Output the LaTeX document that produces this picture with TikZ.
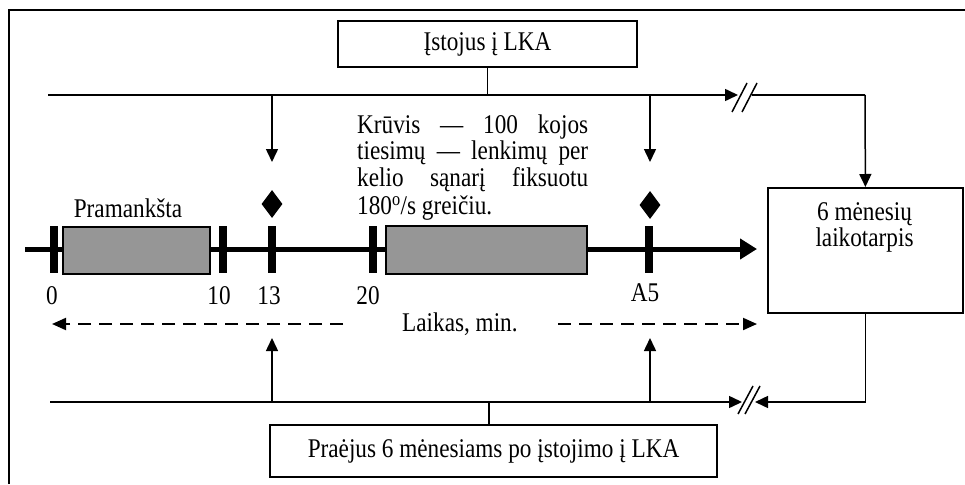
\documentclass[tikz,border=0pt]{standalone}
\usepackage{fontspec}
\setmainfont{Liberation Serif}[FakeStretch=0.86]
\usepackage{tikz}
\usetikzlibrary{arrows.meta}
\usetikzlibrary{shapes.geometric}
\definecolor{boxgray}{RGB}{150,150,150}

\begin{document}
\begin{tikzpicture}[x=1pt,y=-1pt,
        thinline/.style={line width=1.5pt},
        arr/.style={thinline,-{Triangle[length=13pt,width=12pt]}},
        dasharr/.style={line width=2pt,dash pattern=on 13pt off 8pt,-{Triangle[length=14pt,width=12pt]}},
        txt/.style={inner sep=0pt,font=\fontsize{27}{26}\selectfont},
        outbox/.style={draw,line width=1.8pt,inner sep=0pt,txt},
        tickbar/.style={fill=black,inner sep=0pt,minimum width=8pt,minimum height=47pt},
        graybox/.style={draw,line width=1.5pt,fill=boxgray,inner sep=0pt},
        diam/.style={diamond,fill=black,inner sep=0pt,minimum width=21pt,minimum height=28pt}]
        \useasboundingbox (0,0) rectangle (965,484);
        \draw[line width=1.8pt] (9,484) -- (9,10) -- (965,10);
        \node[outbox,minimum width=299pt,minimum height=46pt] (start) at (487.5,44) {Įstojus į LKA};
        \node[outbox,minimum width=195pt,minimum height=125pt,anchor=north west] (rbox) at (767,187) {};
        \node[txt,anchor=base] (rt1) at (864.5,220) {6 mėnesių};
        \node[txt,anchor=base] (rt2) at (864.5,246) {laikotarpis};
        \node[outbox,minimum width=447pt,minimum height=52pt] (finish) at (493.5,451) {Praėjus 6 mėnesiams po įstojimo į LKA};
        \coordinate (tl) at (48,95);
        \coordinate (tr) at (865,95);
        \coordinate (tgap) at (738,95);
        \coordinate (tres) at (752,95);
        \coordinate (bl) at (50,402);
        \coordinate (bgap) at (742,402);
        \coordinate (sb) at (489,402);
        \draw[thinline] (start.south) -- (start.south |- tl);
        \draw[arr] (tl) -- (tgap);
        \draw[thinline] (tres) -- (tr);
        \draw[arr] (tr) -- (rbox.north);
        \draw[thinline] (732,112) -- (747,83);
        \draw[thinline] (742,112) -- (757,83);
        \draw[line width=5pt,-{Triangle[length=17pt,width=20pt]}] (25,249) -- (757,249);
        \node[tickbar] (t0) at (54,249.5) {};
        \node[tickbar] (t10) at (223,249.5) {};
        \node[tickbar] (t13) at (272,249.5) {};
        \node[tickbar] (t20) at (373,249.5) {};
        \node[tickbar] (tA5) at (649,249.5) {};
        \node[graybox,minimum width=147pt,minimum height=47pt] (warm) at (136.5,250.5) {};
        \node[graybox,minimum width=201pt,minimum height=48pt] (load) at (486.5,250) {};
        \node[txt,anchor=base] (warmlbl) at (128,217) {Pramankšta};
        \node[txt,anchor=base] (l0) at (52,304) {0};
        \node[txt,anchor=base] (l10) at (219,304) {10};
        \node[txt,anchor=base] (l13) at (269,304) {13};
        \node[txt,anchor=base] (l20) at (368,304) {20};
        \node[txt,anchor=base] (lA5) at (645,301) {A5};
        \node[txt,anchor=base west] (k1) at (357,133) {\makebox[231pt][s]{Krūvis — 100 kojos}};
        \node[txt,anchor=base west] (k2) at (357,159.5) {\makebox[231pt][s]{tiesimų — lenkimų per}};
        \node[txt,anchor=base west] (k3) at (357,186) {\makebox[231pt][s]{kelio sąnarį fiksuotu}};
        \node[txt,anchor=base west] (k4) at (357,214.5) {180\textsuperscript{o}/s greičiu.};
        \node[diam] (d13) at (272,204) {};
        \node[diam] (dA5) at (650,205) {};
        \draw[arr] (tl -| d13) -- ++(0,67);
        \draw[arr] (tl -| dA5) -- ++(0,67);
        \node[txt,anchor=base west] (time) at (402,331) {Laikas, min.};
        \draw[dasharr] (343,324) -- (52,324);
        \draw[dasharr] (558,324) -- (757,324);
        \draw[thinline] (finish.north -| sb) -- (sb);
        \draw[arr] (bl) -- (bgap);
        \draw[arr] (rbox.south) |- (755,402);
        \draw[thinline] (738,414) -- (753,386);
        \draw[thinline] (745,414) -- (760,386);
        \draw[arr] (bl -| d13) -- ++(0,-64);
        \draw[arr] (bl -| dA5) -- ++(0,-64);
\end{tikzpicture}
\end{document}
